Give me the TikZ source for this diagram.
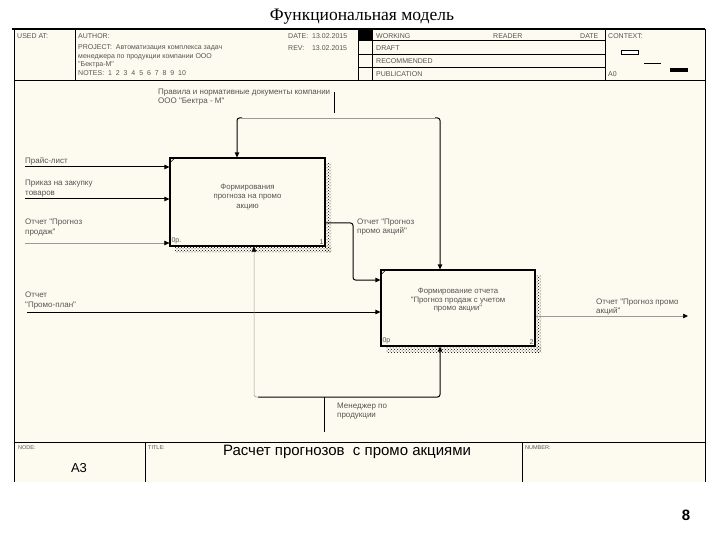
\documentclass[tikz,border=0pt]{standalone}
\usepackage{fontspec}
\setmainfont{Liberation Serif}
\newfontfamily\arial{Liberation Sans}
\usetikzlibrary{arrows.meta,patterns}
\definecolor{cream}{RGB}{253,251,240}
\definecolor{txt}{gray}{0.33}
\tikzset{
  lbl/.style={font=\arial\fontsize{8}{9.2}\selectfont, text=txt, align=left, inner sep=0pt},
  hdr/.style={font=\arial\fontsize{7}{8.7}\selectfont, text=txt, align=left, inner sep=0pt, anchor=west},
  small/.style={font=\arial\fontsize{5.5}{6.5}\selectfont, text=txt, inner sep=0pt, anchor=west},
  frameline/.style={draw=black, line width=1pt},
  flow/.style={draw=black, line width=1pt, rounded corners=2.5pt},
  faint/.style={draw=black!40, line width=0.5pt, rounded corners=2.5pt},
  arr/.style={-{Triangle[length=5pt,width=4.5pt,color=black]}},
  actbox/.style={draw=black, line width=1.2pt, fill=cream, inner sep=0pt},
  acttext/.style={align=center, inner sep=0pt, text=txt},
  shadowfill/.style={pattern=crosshatch dots, pattern color=black},
}
\begin{document}
\begin{tikzpicture}[x=1pt,y=-1pt]
\useasboundingbox (0,0) rectangle (720,540);
\fill[white] (0,0) rectangle (720,540);
% title
\node[font=\fontsize{17.5}{19}\selectfont, inner sep=0pt] (title) at (362,17) {Функциональная модель};
\fill[cream] (14,30) rectangle (705,482);
\draw[line width=1.3pt] (12,29) -- (705,29);
% frame
\draw[frameline] (14,482) -- (14,30) -- (705,30) -- (705,482);
\draw[frameline] (14,81) -- (705,81);
\draw[frameline] (14,442) -- (705,442);
% header grid
\draw[frameline] (75,30) -- (75,81);
\draw[frameline] (358,30) -- (358,81);
\draw[frameline] (372,30) -- (372,81);
\draw[frameline] (605,30) -- (605,81);
\draw[frameline] (358,41) -- (605,41);
\draw[frameline] (358,55) -- (605,55);
\draw[frameline] (358,68) -- (605,68);
\fill[black] (358,30) rectangle (372,41);
% header texts
\node[hdr] (usedat) at (17,36) {USED AT:};
\node[hdr] (author) at (78,36) {AUTHOR:};
\node[hdr] (date1) at (288,36) {DATE:\ \ 13.02.2015};
\node[hdr] (rev) at (288,48) {REV:\ \ \ \ 13.02.2015};
\node[hdr, anchor=north west] (project) at (78,44.5) {PROJECT:\ \ Автоматизация комплекса задач\\менеджера по продукции компании ООО\\"Бектра-М"\\NOTES:\ \ 1\ \ 2\ \ 3\ \ 4\ \ 5\ \ 6\ \ 7\ \ 8\ \ 9\ \ 10};
\node[hdr] (working) at (376,36) {WORKING};
\node[hdr] (reader) at (493,36) {READER};
\node[hdr] (date2) at (580,36) {DATE};
\node[hdr] (context) at (608,36) {CONTEXT:};
\node[hdr] (draft) at (376,48) {DRAFT};
\node[hdr] (recom) at (376,61.5) {RECOMMENDED};
\node[hdr] (publ) at (376,74.5) {PUBLICATION};
\node[hdr] (a0) at (608,74.5) {A0};
% context thumbnail
\draw[line width=0.8pt, fill=white] (621,50) rectangle (638,54);
\draw[line width=0.8pt] (644,63) -- (661,63);
\fill[black] (670,68) rectangle (688,72.5);
% shadows
\fill[shadowfill] (325,163) rectangle (331,252);
\fill[shadowfill] (175,246) rectangle (331,252);
\fill[shadowfill] (535,275) rectangle (541,352);
\fill[shadowfill] (386,346) rectangle (541,352);
% activity boxes
\node[actbox, minimum width=155pt, minimum height=88pt] (box1) at (247.5,202) {};
\node[actbox, minimum width=154pt, minimum height=76pt] (box2) at (458,308) {};
\node[acttext, font=\arial\fontsize{7.8}{9.8}\selectfont] (box1txt) at (247.5,197)
  {Формирования\\прогноза на промо\\акцию};
\node[acttext, font=\arial\fontsize{7.8}{8.6}\selectfont] (box2txt) at (458,300.5)
  {Формирование отчета\\"Прогноз продаж с учетом\\промо акции"};
\draw[line width=0.5pt] ([yshift=-6pt]box1.north west) -- ([xshift=6pt]box1.north west);
\draw[line width=0.5pt] ([yshift=-6pt]box2.north west) -- ([xshift=6pt]box2.north west);
\node[lbl, anchor=south west, font=\arial\fontsize{7}{8}\selectfont] (b1op) at ([shift={(2pt,2pt)}]box1.south west) {0р.};
\node[lbl, anchor=south east, font=\arial\fontsize{7}{8}\selectfont] (b1no) at ([shift={(-2pt,2pt)}]box1.south east) {1};
\node[lbl, anchor=south west, font=\arial\fontsize{7}{8}\selectfont] (b2op) at ([shift={(2pt,2pt)}]box2.south west) {0р};
\node[lbl, anchor=south east, font=\arial\fontsize{7}{8}\selectfont] (b2no) at ([shift={(-2pt,2pt)}]box2.south east) {2};
% control
\node[lbl, anchor=north west] (ctllbl) at (158,88.5) {Правила и нормативные документы компании\\ООО "Бектра - М"};
\coordinate (ctlsrc) at (334,92);
\coordinate (ctlj) at (334,113);
\coordinate (ctlL) at (237,118);
\coordinate (ctlR) at (440,118);
\draw[flow] (ctlsrc) -- (ctlj);
\draw[faint] ([xshift=5pt]ctlL) -- ([xshift=-5pt]ctlR);
\draw[flow, arr] ([xshift=5pt]ctlL) -- (ctlL) -- (ctlL |- box1.north);
\draw[flow, arr] ([xshift=-5pt]ctlR) -- (ctlR) -- (ctlR |- box2.north);
% inputs
\coordinate (in1) at (25,167);
\coordinate (in2) at (25,199);
\coordinate (in3) at (25,243);
\coordinate (in4) at (27,312);
\node[lbl, anchor=south west] (in1lbl) at (25,165) {Прайс-лист};
\node[lbl, anchor=south west] (in2lbl) at (25,197) {Приказ на закупку\\товаров};
\node[lbl, anchor=south west] (in3lbl) at (25,236) {Отчет "Прогноз\\продаж"};
\node[lbl, anchor=south west] (in4lbl) at (25,309) {Отчет\\"Промо-план"};
\draw[flow, arr] (in1) -- (in1 -| box1.west);
\draw[flow, arr] (in2) -- (in2 -| box1.west);
\draw[faint, arr] (in3) -- (in3 -| box1.west);
\draw[flow, arr] (in4) -- (in4 -| box2.west);
% output of box1 to box2
\coordinate (o1) at (353,223);
\coordinate (o1b) at (353,280);
\draw[flow, arr] (o1 -| box1.east) -- (o1) -- (o1b) -- (o1b -| box2.west);
\node[lbl, anchor=north west] (o1lbl) at (357,219) {Отчет "Прогноз\\промо акций"};
% output of box2
\coordinate (out2) at (688,316);
\draw[faint, arr] (out2 -| box2.east) -- (out2);
\node[lbl, anchor=south west] (out2lbl) at (596,315) {Отчет "Прогноз промо\\акций"};
% mechanism
\coordinate (msrc) at (324,432);
\coordinate (mj) at (324,397);
\coordinate (mL) at (254,397);
\coordinate (mR) at (440,397);
\draw[flow] (msrc) -- (mj);
\draw[flow, arr] ([xshift=4pt]mL) -- (mR) -- (mR |- box2.south);
\draw[faint, arr] ([xshift=5pt]mL) -- (mL) -- (mL |- box1.south);
\node[lbl, anchor=north west] (mlbl) at (337,403) {Менеджер по\\продукции};
% footer
\draw[frameline] (145,442) -- (145,482);
\draw[frameline] (522,442) -- (522,482);
\node[small] (node) at (18,448) {NODE:};
\node[small] (titlel) at (148,448) {TITLE:};
\node[small] (number) at (525,448) {NUMBER:};
\node[font=\arial\fontsize{13}{15}\selectfont, inner sep=0pt] (a3) at (79,468) {A3};
\node[font=\arial\fontsize{15}{17}\selectfont, inner sep=0pt] (dtitle) at (347,452) {Расчет прогнозов\ \ с промо акциями};
\node[font=\arial\bfseries\fontsize{15}{17}\selectfont, inner sep=0pt] (pg) at (686,515) {8};
\end{tikzpicture}
\end{document}
